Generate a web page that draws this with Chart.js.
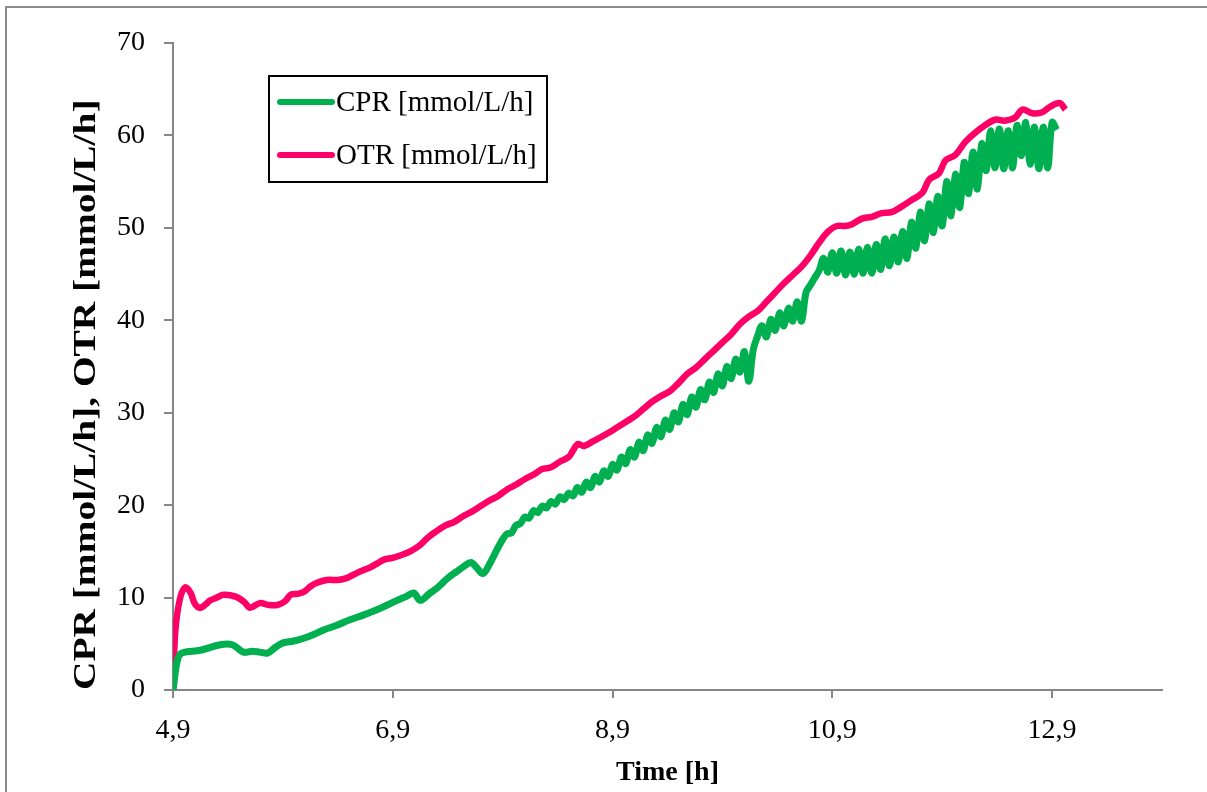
<!DOCTYPE html>
<html>
<head>
<meta charset="utf-8">
<script src="https://cdn.jsdelivr.net/npm/chart.js@4/dist/chart.umd.min.js"></script>
<style>
  body { margin: 0; background: #fff; }
  #frame { position: absolute; left: 5px; top: 6px; width: 1400px; height: 1000px;
           border-top: 2px solid #8c8c8c; border-left: 2px solid #8c8c8c; }
  #wrap { position: absolute; left: 0; top: 0; width: 1207px; height: 792px; }
</style>
</head>
<body>
<div id="frame"></div>
<div id="wrap"><canvas id="chart" width="1207" height="792"></canvas></div>
<script>
// time axis ticks [h] and y ticks
var xTicks = [4.9, 6.9, 8.9, 10.9, 12.9];
var yTicks = [0, 10, 20, 30, 40, 50, 60, 70];

// CPR [mmol/L/h]
var timeCPR = [4.90, 4.94, 4.98, 5.15, 5.33, 5.44, 5.54, 5.62, 5.69, 5.76, 5.83, 5.90, 6.00, 6.09, 6.18,
  6.27, 6.39, 6.51, 6.63, 6.76, 6.85, 6.94, 7.02, 7.09, 7.15, 7.23, 7.31, 7.40, 7.48, 7.55, 7.61, 7.66,
  7.72, 7.78, 7.84,
  7.90, 7.94, 7.98, 8.02, 8.06, 8.10, 8.14, 8.18, 8.22, 8.26, 8.30, 8.34, 8.38, 8.42, 8.46, 8.50,
  8.54, 8.58, 8.62, 8.66, 8.70, 8.74, 8.78, 8.82, 8.86, 8.90, 8.94, 8.98, 9.02, 9.06, 9.10, 9.14,
  9.18, 9.22, 9.26, 9.30, 9.34, 9.38, 9.42, 9.46, 9.50, 9.54, 9.58, 9.62, 9.66, 9.70, 9.74, 9.78,
  9.82, 9.86, 9.90, 9.94, 9.98, 10.02, 10.06, 10.10, 10.14, 10.18, 10.22, 10.26, 10.30, 10.34, 10.38,
  10.42, 10.46, 10.50, 10.54, 10.58, 10.62, 10.66, 10.70, 10.74, 10.78, 10.82, 10.86, 10.90, 10.94,
  10.98, 11.02, 11.06, 11.10, 11.14, 11.18, 11.22, 11.26, 11.30, 11.34, 11.38, 11.42, 11.46, 11.50,
  11.54, 11.58, 11.62, 11.66, 11.70, 11.74, 11.78, 11.82, 11.86, 11.90, 11.94, 11.98, 12.02, 12.06,
  12.10, 12.14, 12.18, 12.22, 12.26, 12.30, 12.34, 12.38, 12.42, 12.46, 12.50, 12.54, 12.58, 12.62,
  12.66, 12.70, 12.74, 12.78, 12.82, 12.86, 12.90, 12.94];
var cpr = [0, 3.2, 4.0, 4.3, 4.9, 4.9, 4.1, 4.2, 4.1, 4.0, 4.6, 5.1, 5.3, 5.6, 6.0,
  6.5, 7.0, 7.6, 8.1, 8.7, 9.2, 9.7, 10.1, 10.5, 9.7, 10.4, 11.1, 12.1, 12.8, 13.4, 13.8, 13.3,
  12.6, 13.6, 15.0,
  16.3, 16.9, 17.0, 17.8, 18.0, 18.7, 18.6, 19.4, 19.2, 19.9, 19.7, 20.4, 20.1, 20.9, 20.6, 21.3,
  21.0, 21.9, 21.4, 22.5, 21.9, 23.1, 22.5, 23.7, 23.1, 24.4, 23.8, 25.2, 24.5, 26.0, 25.2, 26.8,
  25.9, 27.6, 26.7, 28.4, 27.4, 29.2, 28.2, 30.0, 29.0, 30.9, 29.8, 31.7, 30.6, 32.5, 31.4, 33.3,
  32.2, 34.2, 32.9, 35.0, 33.7, 35.8, 34.4, 36.6, 33.4, 36.8, 38.3, 39.4, 38.2, 40.1, 38.9,
  40.8, 39.4, 41.3, 39.9, 42.0, 39.9, 43.0, 43.8, 44.6, 45.4, 46.7, 45.2, 47.3, 45.1,
  47.5, 44.9, 47.4, 45.0, 47.7, 45.1, 47.9, 45.1, 48.2, 45.5, 48.8, 45.9, 49.0, 46.3,
  49.6, 46.7, 50.6, 47.8, 51.7, 48.6, 52.6, 49.5, 53.4, 50.2, 55.0, 51.3, 55.8, 52.2,
  57.1, 53.7, 58.2, 54.2, 59.1, 56.2, 60.5, 56.5, 60.7, 56.4, 60.5, 56.5, 61.1, 57.8,
  61.4, 56.9, 60.9, 56.4, 60.9, 56.5, 61.4, 60.6];

// OTR [mmol/L/h]
var timeOTR = [4.90, 4.92, 4.96, 5.01, 5.06, 5.10, 5.15, 5.24, 5.30, 5.36, 5.47, 5.55, 5.60, 5.69, 5.77,
  5.85, 5.92, 5.97, 6.03, 6.09, 6.15, 6.21, 6.30, 6.40, 6.48, 6.58, 6.64, 6.70, 6.76, 6.82, 6.90, 6.98,
  7.06, 7.14, 7.22, 7.30, 7.38, 7.46, 7.54, 7.62, 7.70, 7.78, 7.86, 7.94, 8.02, 8.10, 8.18, 8.26, 8.34,
  8.42, 8.50, 8.54, 8.58, 8.64, 8.72, 8.80, 8.86, 8.94, 9.02, 9.10, 9.18, 9.26, 9.34, 9.42, 9.50, 9.58, 9.66,
  9.74, 9.82, 9.90, 9.98, 10.06, 10.14, 10.22, 10.30, 10.38, 10.46, 10.54, 10.62, 10.70, 10.78, 10.86,
  10.94, 11.02, 11.08, 11.17, 11.26, 11.35, 11.44, 11.53, 11.62, 11.72, 11.78, 11.87, 11.93, 12.02,
  12.11, 12.20, 12.29, 12.38, 12.47, 12.56, 12.63, 12.72, 12.81, 12.88, 12.97, 13.02];
var otr = [0, 6.2, 9.7, 11.1, 10.5, 9.3, 8.9, 9.7, 10.0, 10.3, 10.1, 9.5, 8.9, 9.4, 9.2,
  9.2, 9.6, 10.3, 10.4, 10.6, 11.2, 11.6, 11.9, 11.9, 12.1, 12.7, 13.0, 13.3, 13.7, 14.1, 14.3, 14.6,
  15.0, 15.6, 16.5, 17.2, 17.8, 18.2, 18.8, 19.3, 19.9, 20.5, 21.0, 21.7, 22.2, 22.8, 23.3, 23.9, 24.1,
  24.7, 25.2, 25.9, 26.6, 26.4, 26.9, 27.4, 27.8, 28.4, 29.0, 29.6, 30.4, 31.2, 31.8, 32.3, 33.2, 34.2, 34.9,
  35.8, 36.7, 37.6, 38.5, 39.6, 40.4, 41.0, 42.0, 43.0, 44.0, 44.9, 45.8, 47.0, 48.4, 49.6,
  50.2, 50.2, 50.4, 51.0, 51.2, 51.6, 51.7, 52.3, 53.0, 53.8, 55.2, 55.9, 57.3, 57.9,
  59.3, 60.3, 61.1, 61.7, 61.6, 61.9, 62.8, 62.4, 62.5, 63.1, 63.5, 62.8];

var seriesNames = ['CPR [mmol/L/h]', 'OTR [mmol/L/h]'];
var yTitle = 'CPR [mmol/L/h], OTR [mmol/L/h]';

function pairs(xs, ys) {
  return xs.map(function (x, i) { return { x: x, y: ys[i] }; });
}

var serif = "'Liberation Serif', 'Times New Roman', serif";
var axisGray = '#868686';

// legend box drawn inside the plot, like the original
var boxLegend = {
  id: 'boxLegend',
  afterDraw: function (chart) {
    var ctx = chart.ctx, a = chart.chartArea;
    var left = a.left + 96, top = a.top + 33, w = 278, h = 106;
    ctx.save();
    ctx.fillStyle = '#fff';
    ctx.fillRect(left, top, w, h);
    ctx.strokeStyle = '#000';
    ctx.lineWidth = 2;
    ctx.strokeRect(left, top, w, h);
    ctx.font = '29px ' + serif;
    ctx.textBaseline = 'middle';
    chart.data.datasets.forEach(function (ds, i) {
      var y = top + 26 + i * 53;
      ctx.strokeStyle = ds.borderColor;
      ctx.lineWidth = 6;
      ctx.lineCap = 'round';
      ctx.beginPath();
      ctx.moveTo(left + 11, y);
      ctx.lineTo(left + 63, y);
      ctx.stroke();
      ctx.fillStyle = '#000';
      ctx.fillText(ds.label, left + 67, y + 1);
    });
    ctx.restore();
  }
};

// y axis title: stretched along its length as in the original
var yTitlePlugin = {
  id: 'yTitlePlugin',
  afterDraw: function (chart) {
    var ctx = chart.ctx, a = chart.chartArea;
    ctx.save();
    ctx.translate(87, a.bottom);
    ctx.rotate(-Math.PI / 2);
    ctx.scale(1.27, 1);
    ctx.font = 'bold 31px ' + serif;
    ctx.fillStyle = '#000';
    ctx.textAlign = 'left';
    ctx.textBaseline = 'middle';
    ctx.fillText(yTitle, 0, 0);
    ctx.restore();
  }
};

var ctx = document.getElementById('chart');
var myChart = new Chart(ctx, {
  type: 'line',
  data: {
    datasets: [{
      label: seriesNames[0],
      data: pairs(timeCPR, cpr),
      borderColor: '#00B050',
      borderWidth: 7,
      tension: 0.35,
      pointRadius: 0,
      fill: false
    }, {
      label: seriesNames[1],
      data: pairs(timeOTR, otr),
      borderColor: '#FF0066',
      borderWidth: 6.5,
      tension: 0.35,
      pointRadius: 0,
      fill: false
    }]
  },
  options: {
    responsive: false,
    animation: false,
    layout: { padding: { left: 0, right: 45, top: 43, bottom: 0 } },
    plugins: { legend: { display: false }, tooltip: { enabled: false } },
    scales: {
      x: {
        type: 'linear',
        min: 4.9,
        max: 13.9,
        afterBuildTicks: function (scale) {
          scale.ticks = xTicks.map(function (v) { return { value: v }; });
        },
        afterFit: function (scale) { scale.height = 102; },
        ticks: {
          color: '#000',
          font: { family: serif, size: 28 },
          padding: 16,
          maxRotation: 0,
          callback: function (v) { return v.toFixed(1).replace('.', ','); }
        },
        grid: { drawOnChartArea: false, color: axisGray, lineWidth: 2, tickLength: 8 },
        border: { color: axisGray, width: 2 },
        title: {
          display: true,
          text: 'Time [h]',
          color: '#000',
          font: { family: serif, size: 28, weight: 'bold' },
          padding: { top: 0, bottom: 2 }
        }
      },
      y: {
        min: 0,
        max: 70,
        afterBuildTicks: function (scale) {
          scale.ticks = yTicks.map(function (v) { return { value: v }; });
        },
        afterFit: function (scale) { scale.width = 173; },
        ticks: {
          color: '#000',
          font: { family: serif, size: 28 },
          padding: 19
        },
        grid: { drawOnChartArea: false, color: axisGray, lineWidth: 2, tickLength: 9 },
        border: { color: axisGray, width: 2 }
      }
    }
  },
  plugins: [boxLegend, yTitlePlugin]
});
</script>
</body>
</html>
